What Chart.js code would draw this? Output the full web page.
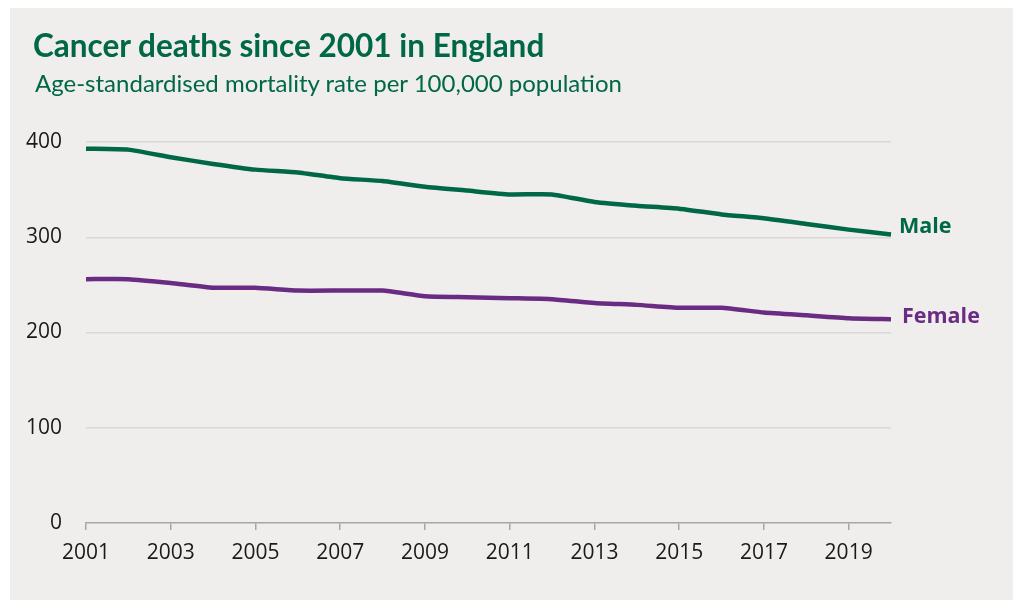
<!DOCTYPE html>
<html>
<head>
<meta charset="utf-8">
<script src="https://cdn.jsdelivr.net/npm/chart.js@4"></script>
<style>
  body { margin: 0; background: #ffffff; }
  #panel { position: absolute; left: 10px; top: 8px; width: 1003px; height: 592px; background: #efeeec; }
  #title { position: absolute; left: 23px; top: 18px; font: bold 31.5px Lato, sans-serif; color: #006747; white-space: nowrap; }
  #subtitle { position: absolute; left: 25px; top: 60px; font: 24px Lato, sans-serif; color: #006747; white-space: nowrap; }
  #chart { position: absolute; left: 0; top: 0; }
</style>
</head>
<body>
<div id="panel">
  <canvas id="chart" width="1003" height="592"></canvas>
  <div id="title">Cancer deaths since 2001 in England</div>
  <div id="subtitle">Age-standardised mortality rate per 100,000 population</div>
</div>
<script>
// Yıllar ve seriler
const years = ['2001', '2002', '2003', '2004', '2005', '2006', '2007', '2008', '2009', '2010',
    '2011', '2012', '2013', '2014', '2015', '2016', '2017', '2018', '2019', '2020'];
const maleRates = [393, 392, 384, 377, 371, 368, 362, 359, 353, 349,
    345, 345, 337, 333, 330, 324, 320, 314, 308, 303];
const femaleRates = [256, 256, 252, 247, 247, 244, 244, 244, 238, 237,
    236, 235, 231, 229, 226, 226, 221, 218, 215, 214];
const yTicks = [0, 100, 200, 300, 400];

const GREEN = '#006747';
const PURPLE = '#6a2c82';

// Serilerin sonuna etiket yazan eklenti
const endLabels = {
    id: 'endLabels',
    afterDatasetsDraw(chart) {
        const ctx = chart.ctx;
        ctx.save();
        ctx.font = 'bold 21.5px "Open Sans", sans-serif';
        ctx.textBaseline = 'middle';
        chart.data.datasets.forEach((ds, i) => {
            const meta = chart.getDatasetMeta(i);
            const last = meta.data[meta.data.length - 1];
            ctx.fillStyle = ds.borderColor;
            ctx.fillText(ds.label, last.x + ds.labelDx, last.y + ds.labelDy);
        });
        ctx.restore();
    }
};

new Chart(document.getElementById('chart'), {
    type: 'line',
    data: {
        labels: years,
        datasets: [{
            label: 'Male',
            data: maleRates,
            borderColor: GREEN,
            borderWidth: 4.5,
            pointRadius: 0,
            tension: 0.15,
            labelDx: 8,
            labelDy: -8
        }, {
            label: 'Female',
            data: femaleRates,
            borderColor: PURPLE,
            borderWidth: 4.5,
            pointRadius: 0,
            tension: 0.15,
            labelDx: 11,
            labelDy: -2
        }]
    },
    options: {
        responsive: false,
        animation: false,
        layout: { padding: { left: 0, right: 122, top: 134, bottom: 0 } },
        plugins: {
            legend: { display: false },
            tooltip: { enabled: false }
        },
        scales: {
            x: {
                type: 'category',
                offset: false,
                afterFit: scale => { scale.height = 77; },
                border: { display: true, color: '#a6a6a6', width: 1.5 },
                grid: {
                    drawOnChartArea: false,
                    tickLength: 7,
                    color: c => (c.index % 2 === 0 ? '#a6a6a6' : 'rgba(0,0,0,0)'),
                    lineWidth: 1.5
                },
                ticks: {
                    autoSkip: false,
                    maxRotation: 0,
                    padding: 10,
                    color: '#1a1a1a',
                    font: { family: '"Open Sans", sans-serif', size: 21 },
                    callback: (v, i) => (i % 2 === 0 ? years[i] : '')
                }
            },
            y: {
                min: 0,
                max: 400,
                afterFit: scale => { scale.width = 76; },
                afterBuildTicks: scale => { scale.ticks = yTicks.map(v => ({ value: v })); },
                border: { display: false },
                grid: {
                    drawTicks: false,
                    color: c => (c.tick && c.tick.value === 0 ? 'rgba(0,0,0,0)' : '#d9d8d6'),
                    lineWidth: 1.5
                },
                ticks: {
                    padding: 24,
                    color: '#1a1a1a',
                    font: { family: '"Open Sans", sans-serif', size: 21 }
                }
            }
        }
    },
    plugins: [endLabels]
});
</script>
</body>
</html>
